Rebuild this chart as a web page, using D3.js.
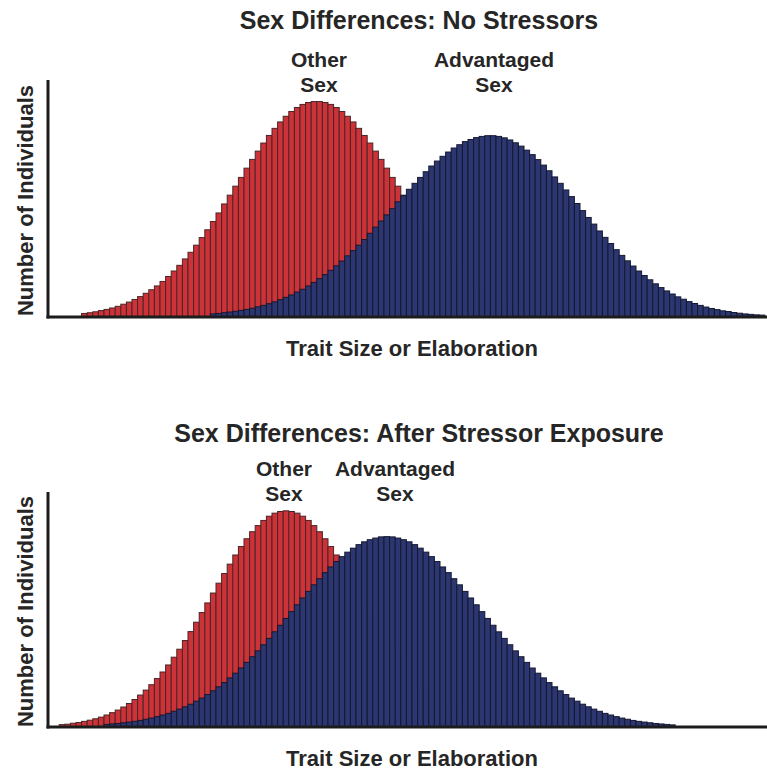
<!DOCTYPE html>
<html>
<head>
<meta charset="utf-8">
<script src="https://cdn.jsdelivr.net/npm/d3@7"></script>
<style>
  body { margin: 0; background: #fff; }
  text { font-family: 'Liberation Sans', Arial, sans-serif; font-weight: bold; fill: #262626; }
</style>
</head>
<body>
<div class="middle"></div>
<script>
// 128 equal bins along the trait axis, heights as % of the y axis
const bins = d3.range(128)

const topOther = [
  0, 0, 0, 0, 0, 0, 1.5, 1.8, 2.2, 2.7, 3.2, 3.8, 4.5, 5.4, 6.3, 7.4,
  8.6, 10.0, 11.5, 13.1, 15.0, 17.1, 19.4, 21.8, 24.5, 27.3,
  30.3, 33.5, 36.8, 40.3, 43.9, 47.7, 51.4, 55.2, 58.9, 62.8,
  66.5, 70.0, 73.4, 76.6, 79.6, 82.3, 84.7, 86.7, 88.4, 89.7,
  90.5, 90.9, 90.9, 90.5, 89.7, 88.4, 86.7, 84.7, 82.3, 79.6,
  76.6, 73.4, 70.0, 66.5, 62.8, 58.9, 55.2, 51.4, 47.7, 43.9,
  40.3, 36.8, 33.5, 30.3, 27.3, 24.5, 21.8, 19.4, 17.1, 15.0,
  13.1, 11.5, 10.0, 8.6, 7.4, 6.3, 5.4, 4.5, 3.8, 3.2,
  2.7, 2.2, 1.8, 1.5,
  0, 0, 0, 0, 0, 0, 0, 0, 0, 0, 0, 0, 0, 0, 0, 0, 0, 0, 0,
  0, 0, 0, 0, 0, 0, 0, 0, 0, 0, 0, 0, 0, 0, 0, 0, 0, 0, 0
]

const topAdvantaged = [
  0, 0, 0, 0, 0, 0, 0, 0, 0, 0, 0, 0, 0, 0, 0, 0, 0, 0, 0, 0,
  0, 0, 0, 0, 0, 0, 0, 0, 0,
  1.3, 1.5, 1.8, 2.1, 2.4, 2.8, 3.2, 3.7, 4.3, 4.9,
  5.6, 6.4, 7.3, 8.3, 9.3, 10.5, 11.7, 13.1, 14.6, 16.2,
  17.9, 19.7, 21.6, 23.6, 25.8, 28.0, 30.3, 32.7, 35.3, 37.9,
  40.5, 43.1, 45.7, 48.6, 51.2, 53.9, 56.4, 58.9, 61.3, 63.7,
  65.8, 67.8, 69.6, 71.3, 72.7, 74.0, 74.9, 75.7, 76.2, 76.5,
  76.5, 76.2, 75.6, 74.7, 73.5, 72.1, 70.4, 68.5, 66.4, 64.1,
  61.7, 59.1, 56.4, 53.6, 50.8, 47.9, 44.9, 42.0, 39.2, 36.3,
  33.6, 31.0, 28.4, 26.0, 23.7, 21.5, 19.4, 17.5, 15.7, 14.0,
  12.4, 11.0, 9.7, 8.5, 7.5, 6.5, 5.7, 4.9, 4.2, 3.6,
  3.1, 2.6, 2.3, 1.9, 1.6, 1.3, 1.1, 0.9, 0.8
]

const bottomOther = [
  0, 0, 1.0, 1.2, 1.6, 1.9, 2.4, 2.9, 3.5, 4.2,
  5.1, 6.1, 7.2, 8.5, 10.0, 11.7, 13.6, 15.7, 18.0, 20.6,
  23.4, 26.4, 29.7, 33.1, 36.8, 40.6, 44.6, 48.7, 52.8, 57.0,
  61.2, 65.3, 69.3, 73.2, 76.8, 80.1, 83.1, 85.7, 87.9, 89.7,
  91.0, 91.7, 92.0, 91.7, 91.0, 89.7, 87.9, 85.7, 83.1, 80.1,
  76.8, 73.2, 69.3, 65.3, 61.2, 57.0, 52.8, 48.7, 44.6, 40.6,
  36.8, 33.1, 29.7, 26.4, 23.4, 20.6, 18.0, 15.7, 13.6, 11.7,
  10.0, 8.5, 7.2, 6.1, 5.1, 4.2, 3.5, 2.9, 2.4, 1.9,
  1.6, 1.2, 1.0,
  0, 0, 0, 0, 0, 0, 0, 0, 0, 0, 0, 0, 0, 0, 0, 0, 0, 0, 0, 0, 0, 0,
  0, 0, 0, 0, 0, 0, 0, 0, 0, 0, 0, 0, 0, 0, 0, 0, 0, 0, 0, 0, 0, 0, 0
]

const bottomAdvantaged = [
  0, 0, 0, 0, 0, 0, 0, 0, 0, 0,
  1.1, 1.3, 1.5, 1.8, 2.1, 2.4, 2.8, 3.3, 3.8, 4.4,
  5.1, 5.8, 6.7, 7.6, 8.6, 9.7, 11.0, 12.3, 13.8, 15.4,
  17.1, 18.9, 20.9, 22.9, 25.1, 27.5, 29.9, 32.4, 35.0, 37.7,
  40.5, 43.3, 46.2, 49.1, 52.0, 54.9, 57.7, 60.5, 63.1, 65.7,
  68.1, 70.4, 72.5, 74.4, 76.1, 77.6, 78.8, 79.7, 80.4, 80.9,
  81.0, 80.9, 80.4, 79.7, 78.8, 77.6, 76.1, 74.4, 72.5, 70.4,
  68.1, 65.7, 63.1, 60.5, 57.7, 54.9, 52.0, 49.1, 46.2, 43.3,
  40.5, 37.7, 35.0, 32.4, 29.9, 27.5, 25.1, 22.9, 20.9, 18.9,
  17.1, 15.4, 13.8, 12.3, 11.0, 9.7, 8.6, 7.6, 6.7, 5.8,
  5.1, 4.4, 3.8, 3.3, 2.8, 2.4, 2.1, 1.8, 1.5, 1.3,
  1.1, 0.9,
  0, 0, 0, 0, 0, 0, 0, 0, 0, 0, 0, 0, 0, 0, 0, 0
]

const otherColor = '#cc3237'
const otherEdge = '#4a2526'
const advColor = '#2c3772'
const advEdge = '#141830'

const svg = d3.select('.middle')
  .append('svg')
  .attr('width', 767)
  .attr('height', 775)

const x = d3.scaleBand().domain(bins).range([48, 48 + 128 * 5.6]).padding(0)

function drawPanel(p) {
  const y = d3.scaleLinear().domain([0, 100]).range([p.bottom, p.top])
  const g = svg.append('g')

  function bars(values, fill, edge) {
    g.append('g')
      .selectAll('rect')
      .data(bins.filter(i => values[i] > 0))
      .enter()
      .append('rect')
        .attr('x', i => x(i))
        .attr('y', i => y(values[i]))
        .attr('width', x.bandwidth())
        .attr('height', i => y(0) - y(values[i]))
        .style('fill', fill)
        .style('stroke', edge)
        .style('stroke-width', '1px')
  }

  bars(p.other, otherColor, otherEdge)
  bars(p.advantaged, advColor, advEdge)

  // axes
  g.append('line')
    .attr('x1', 48).attr('x2', 48)
    .attr('y1', p.top).attr('y2', p.bottom + 1.5)
    .style('stroke', '#1c1c1c').style('stroke-width', '3px')
  g.append('line')
    .attr('x1', 46.5).attr('x2', 767)
    .attr('y1', p.bottom).attr('y2', p.bottom)
    .style('stroke', '#1c1c1c').style('stroke-width', '3px')

  g.append('text')
    .attr('x', 419).attr('y', p.titleY)
    .attr('text-anchor', 'middle')
    .style('font-size', '25px')
    .text(p.title)

  g.append('text')
    .attr('x', 412).attr('y', p.bottom + 39)
    .attr('text-anchor', 'middle')
    .style('font-size', '22px')
    .text('Trait Size or Elaboration')

  g.append('text')
    .attr('transform', `translate(33,${(p.top + p.bottom) / 2 + 2}) rotate(-90)`)
    .attr('text-anchor', 'middle')
    .style('font-size', '22px')
    .text('Number of Individuals')

  const labels = [
    { cx: p.otherX, lines: ['Other', 'Sex'] },
    { cx: p.advX, lines: ['Advantaged', 'Sex'] }
  ]
  labels.forEach(function (l) {
    l.lines.forEach(function (t, k) {
      g.append('text')
        .attr('x', l.cx).attr('y', p.labelY + k * 25)
        .attr('text-anchor', 'middle')
        .style('font-size', '21px')
        .text(t)
    })
  })
}

drawPanel({
  title: 'Sex Differences: No Stressors',
  titleY: 29, labelY: 67, otherX: 319, advX: 494,
  top: 80, bottom: 317,
  other: topOther, advantaged: topAdvantaged
})

drawPanel({
  title: 'Sex Differences: After Stressor Exposure',
  titleY: 442, labelY: 476, otherX: 284, advX: 395,
  top: 492, bottom: 727,
  other: bottomOther, advantaged: bottomAdvantaged
})
</script>
</body>
</html>
